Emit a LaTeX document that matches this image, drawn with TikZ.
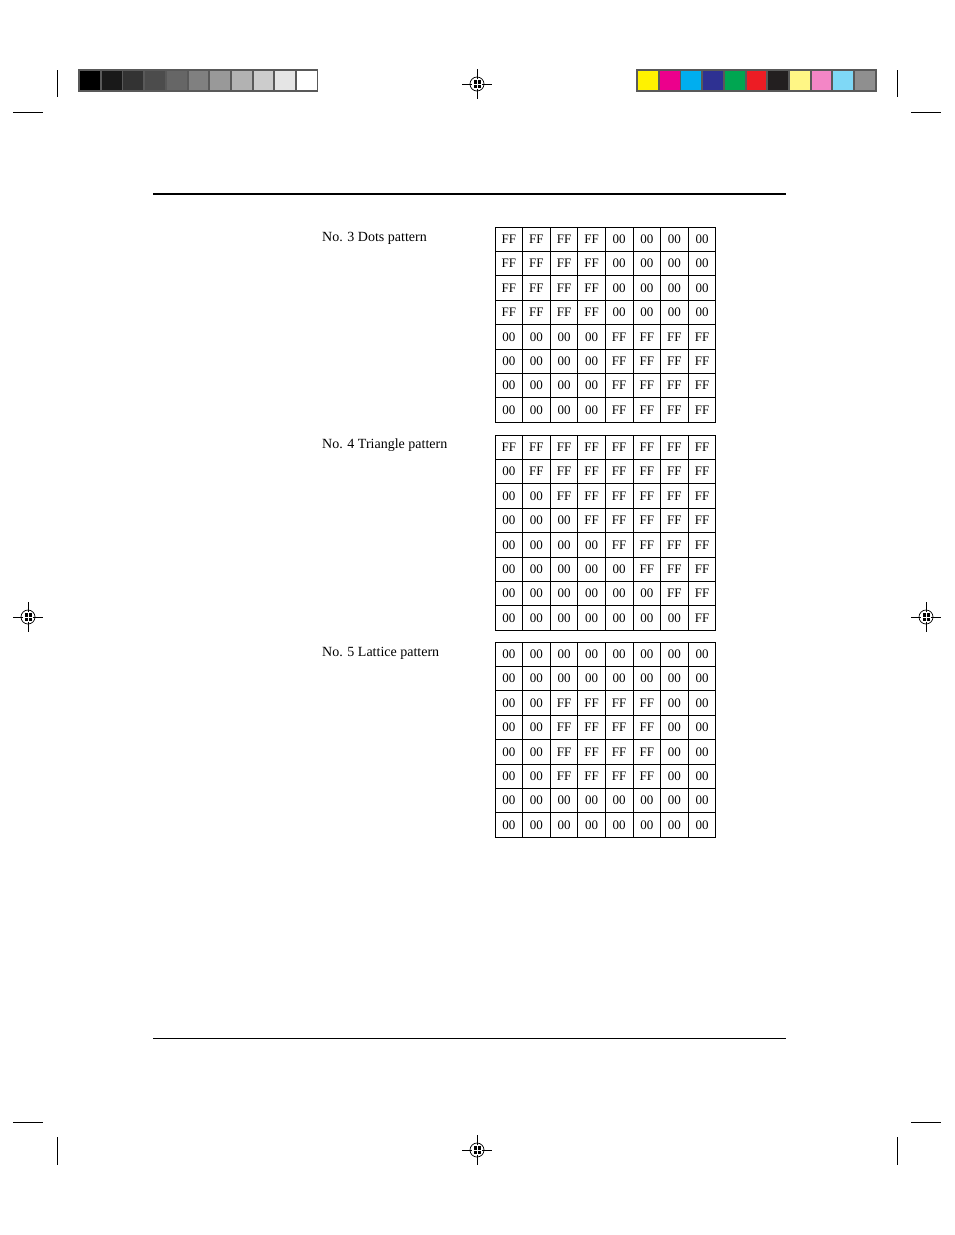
\documentclass[tikz,border=0pt]{standalone}
\usepackage{fontspec}
\setmainfont{Liberation Serif}
\begin{document}
\begin{tikzpicture}[x=1pt,y=-1pt,
  cell/.style={draw,line width=0.8pt,minimum width=27.6pt,minimum height=24.4pt,inner sep=0pt,font=\fontsize{13}{13}\selectfont},
  lbl/.style={anchor=base west,inner sep=0pt,font=\fontsize{14}{14}\selectfont},
  crop/.style={line width=0.8pt}]
\useasboundingbox (0,0) rectangle (954,1235);
% gray bar
\fill[black!65] (78,69) rectangle (318,92);
\foreach \i/\g in {0/100,1/90,2/80,3/70,4/60,5/50,6/40,7/30,8/20,9/10,10/0}{
  \fill[black!\g] (80+\i*21.7,71) rectangle (80+\i*21.7+19.8,90);}
% colour bar
\definecolor{c1}{HTML}{FFF200}\definecolor{c2}{HTML}{EC008C}\definecolor{c3}{HTML}{00AEEF}
\definecolor{c4}{HTML}{2E3192}\definecolor{c5}{HTML}{00A651}\definecolor{c6}{HTML}{ED1C24}
\definecolor{c7}{HTML}{231F20}\definecolor{c8}{HTML}{FFF685}\definecolor{c9}{HTML}{F386C6}
\definecolor{c10}{HTML}{7FD8F6}\definecolor{c11}{HTML}{8F8F8F}
\fill[black!65] (636,69) rectangle (877,92);
\foreach \i in {1,...,11}{
  \fill[c\i] (638+\i*21.7-21.7,71) rectangle (638+\i*21.7-1.9,90);}
% crop marks
\draw[crop] (57,70)--(57,97) (13,112)--(43,112) (897,70)--(897,97) (911,112)--(941,112);
\draw[crop] (57,1137)--(57,1165) (13,1122)--(43,1122) (897,1137)--(897,1165) (911,1122)--(941,1122);
% registration marks
\foreach \n/\px/\py in {ra/477/84,rb/477/1150,rc/28/617,rd/926/617}{
  \coordinate (\n) at (\px,\py);
  \draw[line width=0.7pt] (\px-15,\py)--(\px+15,\py) (\px,\py-15)--(\px,\py+15);
  \draw[line width=0.7pt] (\n) ellipse (7 and 7);
  \fill (\px-3.5,\py-4) rectangle (\px+3.5,\py+4);
  \draw[white,line width=0.8pt] (\px-5,\py)--(\px+5,\py) (\px,\py-5)--(\px,\py+5);
}
% rules
\draw[line width=2.5pt] (153,194)--(786,194);
\draw[line width=0.7pt] (153,1038)--(786,1038);
% labels
\node[lbl] (l3) at (322,241) {No. 3 Dots pattern};
\node[lbl] (l4) at (322,448) {No. 4 Triangle pattern};
\node[lbl] (l5) at (322,656) {No. 5 Lattice pattern};
% tables
\foreach \t/\yy in {3/227,4/435,5/642}{
  \foreach \r in {0,...,7}{
    \foreach \c in {0,...,7}{
      \ifnum\t=3
        \pgfmathparse{((\r<4) && (\c<4)) || ((\r>3) && (\c>3)) ? 1 : 0}
      \fi
      \ifnum\t=4
        \pgfmathparse{\c>=\r ? 1 : 0}
      \fi
      \ifnum\t=5
        \pgfmathparse{((\r>=2) && (\r<=5) && (\c>=2) && (\c<=5)) ? 1 : 0}
      \fi
      \pgfmathtruncatemacro\f{\pgfmathresult}
      \node[cell] (t\t-\r-\c) at (495+13.8+\c*27.6,\yy+12.2+\r*24.4) {\ifnum\f=1 FF\else 00\fi};
    }
  }
}
\end{tikzpicture}
\end{document}
